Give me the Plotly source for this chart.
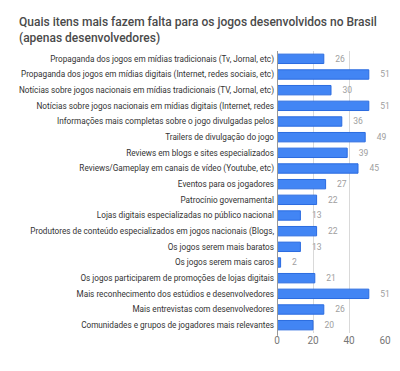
import plotly.graph_objects as go

categories = [
    "Propaganda dos jogos em mídias tradicionais (Tv, Jornal, etc)",
    "Propaganda dos jogos em mídias digitais (Internet, redes sociais, etc)",
    "Notícias sobre jogos nacionais em mídias tradicionais (TV, Jornal, etc)",
    "Notícias sobre jogos nacionais em mídias digitais (Internet, redes",
    "Informações mais completas sobre o jogo divulgadas pelos",
    "Trailers de divulgação do jogo",
    "Reviews em blogs e sites especializados",
    "Reviews/Gameplay em canais de vídeo (Youtube, etc)",
    "Eventos para os jogadores",
    "Patrocínio governamental",
    "Lojas digitais especializadas no público nacional",
    "Produtores de conteúdo especializados em jogos nacionais (Blogs,",
    "Os jogos serem mais baratos",
    "Os jogos serem mais caros",
    "Os jogos participarem de promoções de lojas digitais",
    "Mais reconhecimento dos estúdios e desenvolvedores",
    "Mais entrevistas com desenvolvedores",
    "Comunidades e grupos de jogadores mais relevantes",
]
values = [26, 51, 30, 51, 36, 49, 39, 45, 27, 22, 13, 22, 13, 2, 21, 51, 26, 20]
x_ticks = [0, 20, 40, 60]
title_text = "Quais itens mais fazem falta para os jogos desenvolvidos no Brasil<br>(apenas desenvolvedores)"

fig = go.Figure()
fig.add_trace(go.Bar(
    x=values,
    y=categories,
    orientation="h",
    marker=dict(color="#4285F4", line=dict(color="#2A6BE0", width=1)),
    texttemplate="    %{x}",
    textposition="outside",
    cliponaxis=False,
    textfont=dict(family="Roboto", size=10, color="#9E9E9E"),
    hoverinfo="skip",
))

fig.update_layout(
    width=400,
    height=371,
    paper_bgcolor="white",
    plot_bgcolor="white",
    showlegend=False,
    bargap=0.4,
    margin=dict(l=277, r=15, t=51, b=38, autoexpand=False),
    font=dict(family="Roboto"),
)

fig.add_annotation(
    text=title_text,
    xref="paper", yref="paper",
    x=-260 / 108, y=1 + 21 / 282,
    xanchor="left", yanchor="middle",
    align="left",
    showarrow=False,
    font=dict(family="Roboto", size=12, color="#4A4A4A", weight=500),
)

fig.update_xaxes(
    range=[0, 60],
    tickvals=x_ticks,
    showgrid=True,
    gridcolor="#D9D9D9",
    gridwidth=1,
    zeroline=False,
    showline=False,
    automargin=False,
    tickfont=dict(family="Roboto", size=10, color="#777777"),
    fixedrange=True,
)
fig.update_yaxes(
    autorange="reversed",
    showgrid=False,
    showline=False,
    ticks="",
    automargin=False,
    tickfont=dict(family="Roboto", size=8.2, color="#333333"),
    ticklabelstandoff=2,
    fixedrange=True,
)

fig.add_shape(type="line", xref="x", yref="paper", x0=0, x1=0, y0=-0.01, y1=1.0,
              line=dict(color="#999999", width=2))

fig.write_html("out.html", config={"displayModeBar": False},
               post_script="document.body.style.margin='0';document.body.style.overflow='hidden';")
